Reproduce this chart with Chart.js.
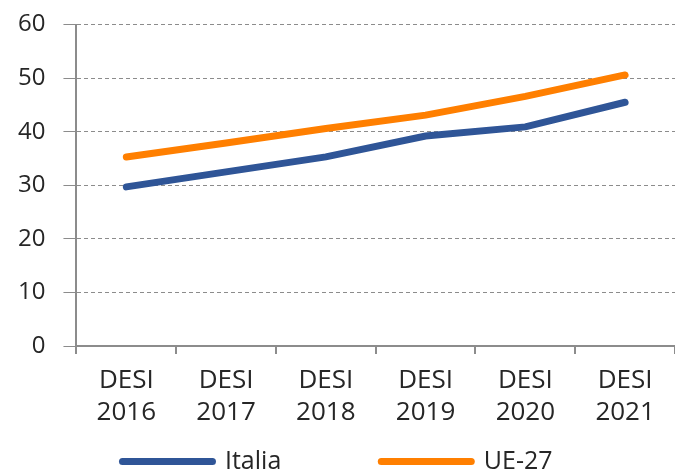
<!DOCTYPE html>
<html>
<head>
<meta charset="utf-8">
<script src="https://cdn.jsdelivr.net/npm/chart.js@4.4.0/dist/chart.umd.min.js"></script>
<style>
  html, body { margin: 0; padding: 0; background: #fff; }
  #wrap { width: 675px; height: 474px; }
</style>
</head>
<body>
<div id="wrap"><canvas id="desiChart"></canvas></div>
<script>
// DESI scores, Italia vs UE-27
const categories = [['DESI', '2016'], ['DESI', '2017'], ['DESI', '2018'], ['DESI', '2019'], ['DESI', '2020'], ['DESI', '2021']];
const italia = [29.7, 32.5, 35.3, 39.2, 40.9, 45.5];
const ue27 = [35.3, 37.9, 40.6, 43.1, 46.6, 50.6];
const yTicks = [0, 10, 20, 30, 40, 50, 60];

const textColor = '#262626';
const axisGray = '#8c8c8c';
const legendGap = 100; // horizontal space between legend items

// legend padding is used both across and down; pull the rows back up
// so only the horizontal gap stays wide
const tightLegend = {
    id: 'tightLegend',
    afterInit(chart) {
        chart.legend._computeTitleHeight = () => -(legendGap - 10);
    }
};

function initChart() {
    const ctx = document.getElementById('desiChart').getContext('2d');
    return new Chart(ctx, {
        type: 'line',
        data: {
            labels: categories,
            datasets: [
                {
                    label: 'Italia',
                    data: italia,
                    borderColor: '#2f5597',
                    backgroundColor: '#2f5597',
                    borderWidth: 7,
                    borderCapStyle: 'round',
                    pointRadius: 0,
                    tension: 0
                },
                {
                    label: 'UE-27',
                    data: ue27,
                    borderColor: '#ff7f00',
                    backgroundColor: '#ff7f00',
                    borderWidth: 7,
                    borderCapStyle: 'round',
                    pointRadius: 0,
                    tension: 0
                }
            ]
        },
        options: {
            responsive: true,
            maintainAspectRatio: false,
            animation: false,
            layout: { padding: { top: 0, right: 0, left: 0, bottom: -10 } },
            plugins: {
                tooltip: { enabled: false },
                legend: {
                    position: 'bottom',
                    labels: {
                        color: textColor,
                        font: { family: 'Open Sans', size: 25 },
                        usePointStyle: true,
                        pointStyle: 'line',
                        pointStyleWidth: 90,
                        boxWidth: 90,
                        padding: legendGap,
                        generateLabels(chart) {
                            return chart.data.datasets.map((ds, i) => ({
                                text: ds.label,
                                strokeStyle: ds.borderColor,
                                fillStyle: ds.borderColor,
                                lineWidth: 7,
                                lineCap: 'round',
                                pointStyle: 'line',
                                fontColor: textColor,
                                datasetIndex: i
                            }));
                        }
                    }
                }
            },
            scales: {
                x: {
                    offset: true,
                    grid: {
                        offset: true,
                        drawOnChartArea: false,
                        drawTicks: true,
                        tickLength: 8,
                        color: axisGray,
                        lineWidth: 2
                    },
                    border: { color: axisGray, width: 2 },
                    ticks: {
                        color: textColor,
                        font: { family: 'Open Sans', size: 26, lineHeight: 1.25 },
                        padding: 10,
                        maxRotation: 0
                    }
                },
                y: {
                    min: 0,
                    max: 60,
                    afterBuildTicks(axis) {
                        axis.ticks = yTicks.map(v => ({ value: v }));
                    },
                    grid: {
                        color: '#8c8c8c',
                        lineWidth: 1,
                        tickLength: 13,
                        tickColor: axisGray
                    },
                    border: { color: axisGray, width: 2, dash: [4, 3] },
                    ticks: {
                        color: textColor,
                        font: { family: 'Open Sans', size: 24, lineHeight: 0.55 },
                        padding: 18
                    }
                }
            }
        },
        plugins: [tightLegend]
    });
}

window.onload = () => {
    initChart();
};
</script>
</body>
</html>
